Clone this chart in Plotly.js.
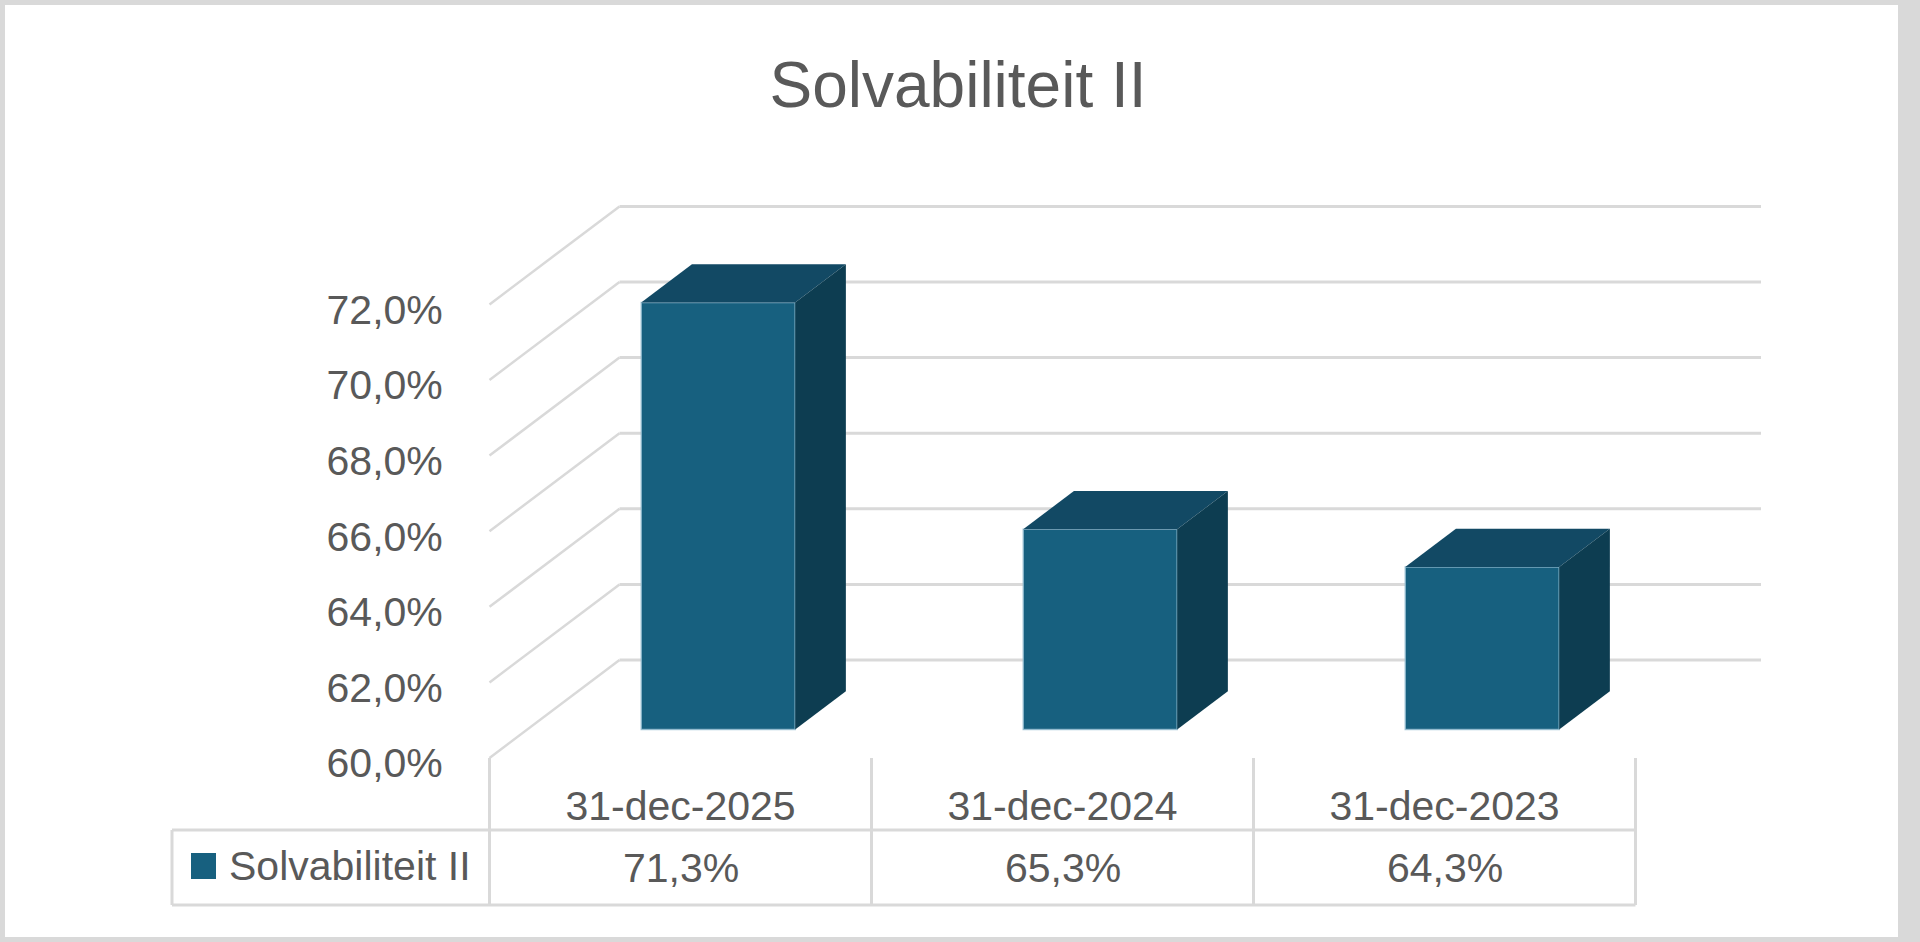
<!DOCTYPE html>
<html>
<head>
<meta charset="utf-8">
<script src="https://cdn.plot.ly/plotly-3.0.1.min.js"></script>
<style>
html, body { margin: 0; padding: 0; background: #fff; }
#wrap { position: relative; width: 1920px; height: 942px; }
#chart { width: 1920px; height: 942px; }
#frame { position: absolute; left: 0; top: 0; width: 1920px; height: 942px; box-sizing: border-box;
  border-style: solid; border-color: #d9d9d9; border-width: 5px 22px 5px 5px; pointer-events: none; }
</style>
</head>
<body>
<div id="wrap">
  <div id="chart"></div>
  <div id="frame"></div>
</div>
<script>
// data
var categories = ['31-dec-2025', '31-dec-2024', '31-dec-2023'];
var solvency = [71.3, 65.3, 64.3];
var seriesName = 'Solvabiliteit II';
var yTicks = [60, 62, 64, 66, 68, 70, 72];

// page geometry, in pixels of the 1920x942 picture
var W = 1920, H = 942;
var catPx = 382, cat0 = 680.5;     // px per category, centre of first category (front)
var pctPx = 37.8, base60 = 758;    // px per percent point, 60% on the front edge
var depthDx = 130, depthDy = 98;   // oblique shift front -> back wall
var barFront = 0.29, barBack = 0.68, barW = 0.403;
var gray = '#d9d9d9';
var front = '#17607f', topCol = '#124964', sideCol = '#0d3d51';

function xd(px) { return (px - cat0) / catPx; }
function yd(py) { return 60 + (base60 - py) / pctPx; }
var ddx = depthDx / catPx, ddy = depthDy / pctPx;
var floorY = 60 + barFront * ddy;
var sx = (barBack - barFront) * ddx, sy = (barBack - barFront) * ddy;

// dutch style: decimal comma
function pct(v) { return v.toFixed(1).replace('.', ',') + '%'; }

var data = [];
// front faces
data.push({
    type: 'bar',
    x: solvency.map(function (v, i) { return i + barFront * ddx; }),
    y: solvency.map(function (v) { return v - 60; }),
    base: floorY,
    width: barW,
    marker: { color: front, line: { color: 'rgba(150,190,210,0.8)', width: 1.5 } },
    hoverinfo: 'skip',
    name: seriesName
});
// top and side faces
solvency.forEach(function (v, i) {
    var xl = i + barFront * ddx - barW / 2, xr = xl + barW, top = v - 60 + floorY;
    data.push({
        type: 'scatter', mode: 'lines', fill: 'toself', fillcolor: topCol,
        line: { width: 0, color: topCol },
        x: [xl, xr, xr + sx, xl + sx, xl],
        y: [top, top, top + sy, top + sy, top],
        hoverinfo: 'skip'
    });
    data.push({
        type: 'scatter', mode: 'lines', fill: 'toself', fillcolor: sideCol,
        line: { width: 0, color: sideCol },
        x: [xr, xr + sx, xr + sx, xr, xr],
        y: [floorY, floorY + sy, top + sy, top, floorY],
        hoverinfo: 'skip'
    });
});

var shapes = [];
// back wall gridlines and side wall diagonals
yTicks.forEach(function (t) {
    shapes.push({ type: 'line', layer: 'below', x0: -0.5 + ddx, x1: xd(1761), y0: t + ddy, y1: t + ddy,
        line: { color: gray, width: 3 } });
    shapes.push({ type: 'line', layer: 'below', x0: -0.5, x1: -0.5 + ddx, y0: t, y1: t + ddy,
        line: { color: gray, width: 2.5 } });
});
// data table
var rowMid = yd(830), rowBot = yd(905), tableLeft = xd(172);
for (var j = 0; j <= categories.length; j++) {
    shapes.push({ type: 'line', x0: j - 0.5, x1: j - 0.5, y0: 60, y1: rowBot, line: { color: gray, width: 3 } });
}
shapes.push({ type: 'line', x0: tableLeft, x1: categories.length - 0.5, y0: rowMid, y1: rowMid, line: { color: gray, width: 3 } });
shapes.push({ type: 'line', x0: tableLeft, x1: categories.length - 0.5, y0: rowBot, y1: rowBot, line: { color: gray, width: 3 } });
shapes.push({ type: 'line', x0: tableLeft, x1: tableLeft, y0: rowMid, y1: rowBot, line: { color: gray, width: 3 } });
// legend key
shapes.push({ type: 'rect', x0: xd(191), x1: xd(216), y0: yd(879), y1: yd(853), fillcolor: front, line: { width: 0 } });

var annotations = solvency.map(function (v, i) {
    return { x: i, y: yd(868), text: pct(v), showarrow: false, xanchor: 'center', yanchor: 'middle',
        font: { size: 41, color: '#595959' } };
});
annotations.push({ x: xd(227), y: yd(866), text: seriesName, showarrow: false, xanchor: 'left', yanchor: 'middle',
    font: { size: 41, color: '#595959' } });

var layout = {
    width: W, height: H,
    margin: { l: 0, r: 0, t: 0, b: 0, pad: 0 },
    paper_bgcolor: '#fff', plot_bgcolor: 'rgba(0,0,0,0)',
    font: { family: 'Liberation Sans, Arial, sans-serif', color: '#595959', size: 41 },
    title: { text: 'Solvabiliteit II', font: { size: 64, color: '#595959' },
        xref: 'container', yref: 'container', x: 958 / W, xanchor: 'center', y: 1 - 85 / H, yanchor: 'middle' },
    showlegend: false,
    xaxis: {
        range: [xd(0), xd(W)], tickvals: categories.map(function (c, i) { return i; }), ticktext: categories,
        anchor: 'free', position: 1 - base60 / H, showline: false, showgrid: false, zeroline: false,
        ticks: 'outside', ticklen: 12, tickcolor: 'rgba(0,0,0,0)', tickfont: { size: 41 }
    },
    yaxis: {
        range: [yd(H), yd(0)], tickvals: yTicks, ticktext: yTicks.map(pct),
        anchor: 'free', position: 489 / W, showline: false, showgrid: false, zeroline: false,
        ticks: 'outside', ticklen: 38, tickcolor: 'rgba(0,0,0,0)', tickfont: { size: 41 },
        ticklabelshift: 5
    },
    shapes: shapes,
    annotations: annotations
};

Plotly.newPlot('chart', data, layout, { displayModeBar: false, staticPlot: true });
</script>
</body>
</html>
